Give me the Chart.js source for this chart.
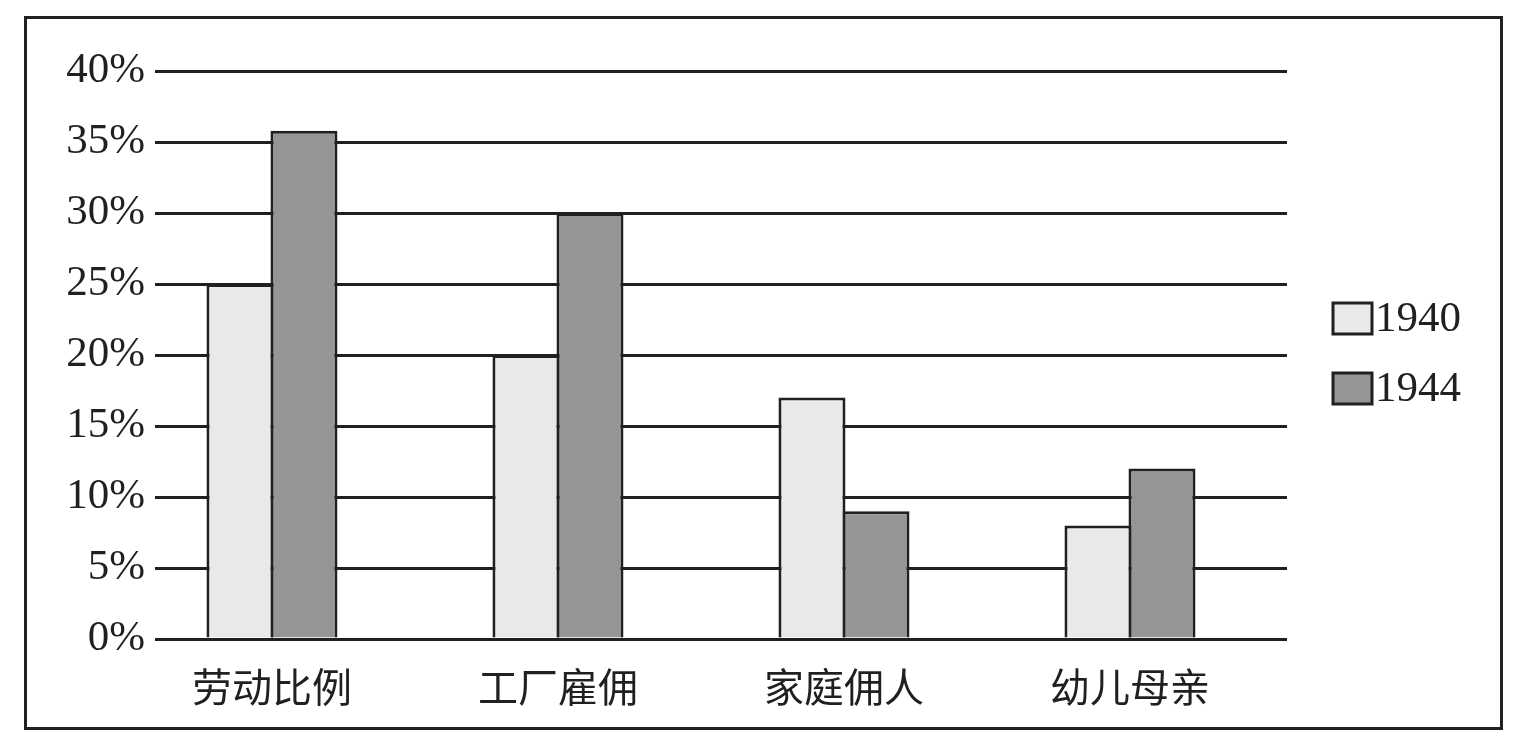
<!DOCTYPE html>
<html>
<head>
<meta charset="utf-8">
<script src="https://cdn.jsdelivr.net/npm/chart.js@4/dist/chart.umd.min.js"></script>
<style>
  html, body { margin: 0; padding: 0; background: #fff; }
  #wrap { position: relative; width: 1513px; height: 745px; }
  #marco {
    position: absolute; left: 24px; top: 16px; width: 1479px; height: 714px;
    box-sizing: border-box; border: 3px solid #231f20; pointer-events: none;
  }
</style>
</head>
<body>
<div id="wrap">
  <canvas id="grafico"></canvas>
  <div id="marco"></div>
</div>
<script>
// Datos
const categorias = ['劳动比例', '工厂雇佣', '家庭佣人', '幼儿母亲'];
const series = ['1940', '1944'];
const valores1940 = [25, 20, 17, 8];
const valores1944 = [35.8, 30, 9, 12];
const ticksY = [0, 5, 10, 15, 20, 25, 30, 35, 40];

const tinta = '#231f20';
const fuenteSerif = "'Liberation Serif', 'DejaVu Serif', serif";
const fuenteCJK = "'Noto Sans CJK SC', sans-serif";

// Leyenda propia: caja pegada al texto, como en el original
const leyendaPropia = {
    id: 'leyendaPropia',
    afterDraw(chart) {
        const {ctx, chartArea} = chart;
        const centro = (chartArea.top + chartArea.bottom) / 2;
        const x = chartArea.right + 46;
        chart.data.datasets.forEach((ds, i) => {
            const yc = centro - 37 + i * 70;
            ctx.save();
            ctx.fillStyle = ds.backgroundColor;
            ctx.fillRect(x, yc - 15, 39, 31);
            ctx.strokeStyle = tinta;
            ctx.lineWidth = 3;
            ctx.strokeRect(x, yc - 15, 39, 31);
            ctx.fillStyle = tinta;
            ctx.font = '43px ' + fuenteSerif;
            ctx.textAlign = 'left';
            ctx.textBaseline = 'middle';
            ctx.fillText(ds.label, x + 42, yc + 2);
            ctx.restore();
        });
    }
};

new Chart(document.getElementById('grafico'), {
    type: 'bar',
    data: {
        datasets: [{
            label: series[0],
            data: valores1940.map((v, i) => ({x: i, y: v})),
            backgroundColor: '#e9e9e9',
            borderColor: tinta,
            borderWidth: 3
        }, {
            label: series[1],
            data: valores1944.map((v, i) => ({x: i, y: v})),
            backgroundColor: '#959595',
            borderColor: tinta,
            borderWidth: 3
        }]
    },
    options: {
        responsive: true,
        maintainAspectRatio: false,
        animation: false,
        categoryPercentage: 0.4476,
        // barras un poco más anchas para que compartan el borde central
        barPercentage: 1.047,
        layout: { padding: { left: 0, right: 226, top: 71, bottom: 0 } },
        plugins: {
            legend: { display: false },
            tooltip: { enabled: false }
        },
        scales: {
            x: {
                type: 'linear',
                offset: false,
                min: -0.409,
                max: 3.549,
                grid: { display: false },
                border: { display: false },
                afterFit: (s) => { s.height = 106; },
                ticks: {
                    stepSize: 1,
                    includeBounds: false,
                    autoSkip: false,
                    maxRotation: 0,
                    padding: 16,
                    color: tinta,
                    font: { family: fuenteCJK, size: 40 },
                    callback: (v) => Number.isInteger(v) ? categorias[v] : ''
                }
            },
            y: {
                min: ticksY[0],
                max: ticksY[ticksY.length - 1],
                afterFit: (s) => { s.width = 155; },
                afterBuildTicks: (s) => { s.ticks = ticksY.map(v => ({value: v})); },
                grid: { color: tinta, lineWidth: 3, drawTicks: false },
                border: { display: false },
                ticks: {
                    padding: 10,
                    color: tinta,
                    font: { family: fuenteSerif, size: 43 },
                    callback: (v) => v + '%'
                }
            }
        }
    },
    plugins: [leyendaPropia]
});
</script>
</body>
</html>
